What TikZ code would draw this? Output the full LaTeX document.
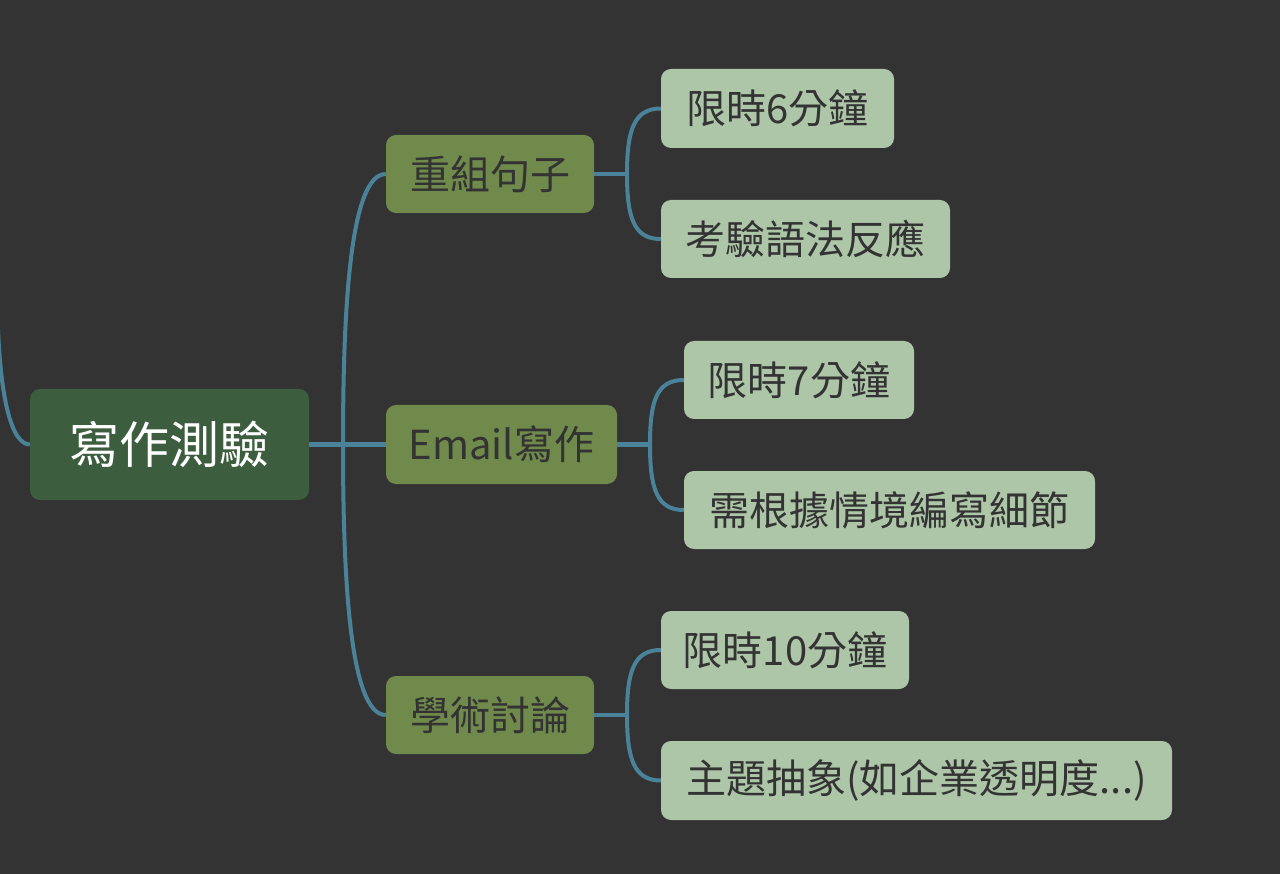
\documentclass[tikz,border=0pt]{standalone}
\usepackage{fontspec}
\setmainfont{Noto Sans CJK TC}
\definecolor{bgc}{HTML}{333333}
\definecolor{rootc}{HTML}{3D5E3E}
\definecolor{branchc}{HTML}{6F8A4B}
\definecolor{leafc}{HTML}{ADC6A8}
\definecolor{linec}{HTML}{4A8399}
\definecolor{darktext}{HTML}{333333}
\begin{document}
\begin{tikzpicture}[x=1pt,y=-1pt,
  box/.style={rounded corners=10pt, inner sep=0pt, anchor=center, align=center},
  rootbox/.style={box, fill=rootc, text=white, font=\fontsize{50pt}{60pt}\selectfont},
  branchbox/.style={box, fill=branchc, text=darktext, font=\fontsize{40pt}{48pt}\selectfont},
  leafbox/.style={box, fill=leafc, text=darktext, font=\fontsize{40pt}{48pt}\selectfont},
  conn/.style={draw=linec, line width=4pt}]
\fill[bgc] (0,0) rectangle (1280,874);
\useasboundingbox (0,0) rectangle (1280,874);

\coordinate (p0) at (-3,280);
\coordinate (f0) at (343,444.5);
\coordinate (f1) at (627,174);
\coordinate (f2) at (650,444.5);
\coordinate (f3) at (627,715);

\node[rootbox, minimum width=279pt, minimum height=111pt] (root) at (169.5,444.5) {寫作測驗};
\node[branchbox, minimum width=208pt, minimum height=78pt] (b1) at (490,174) {重組句子};
\node[branchbox, minimum width=231pt, minimum height=79pt] (b2) at (501.5,444.5) {Email寫作};
\node[branchbox, minimum width=208pt, minimum height=78pt] (b3) at (490,715) {學術討論};

\node[leafbox, minimum width=233pt, minimum height=79pt] (l1) at (777.5,108.5) {限時6分鐘};
\node[leafbox, minimum width=289pt, minimum height=78pt] (l2) at (805.5,239) {考驗語法反應};
\node[leafbox, minimum width=230pt, minimum height=78pt] (l3) at (799,380) {限時7分鐘};
\node[leafbox, minimum width=411pt, minimum height=78pt] (l4) at (889.5,510) {需根據情境編寫細節};
\node[leafbox, minimum width=248pt, minimum height=78pt] (l5) at (785,650) {限時10分鐘};
\node[leafbox, minimum width=511pt, minimum height=79pt] (l6) at (916.5,780.5) {主題抽象(如企業透明度...)};

% incoming connector from parent (off page)
\draw[conn] (p0) .. controls (-3,400) and (12,444.5) .. (root.west);

% root to branches
\draw[conn] (root.east) -- (f0);
\draw[conn] (f0) -- (b2.west);
\draw[conn] (f0) .. controls (343,309) and (350,174) .. (b1.west);
\draw[conn] (f0) .. controls (343,580) and (350,715) .. (b3.west);

% branch 1
\draw[conn] (b1.east) -- (f1);
\draw[conn] (f1) .. controls (627,130) and (634,108.5) .. (l1.west);
\draw[conn] (f1) .. controls (627,218) and (634,239) .. (l2.west);

% branch 2
\draw[conn] (b2.east) -- (f2);
\draw[conn] (f2) .. controls (650,400) and (657,380) .. (l3.west);
\draw[conn] (f2) .. controls (650,489) and (657,510) .. (l4.west);

% branch 3
\draw[conn] (b3.east) -- (f3);
\draw[conn] (f3) .. controls (627,671) and (634,650) .. (l5.west);
\draw[conn] (f3) .. controls (627,759) and (634,780.5) .. (l6.west);
\end{tikzpicture}
\end{document}
